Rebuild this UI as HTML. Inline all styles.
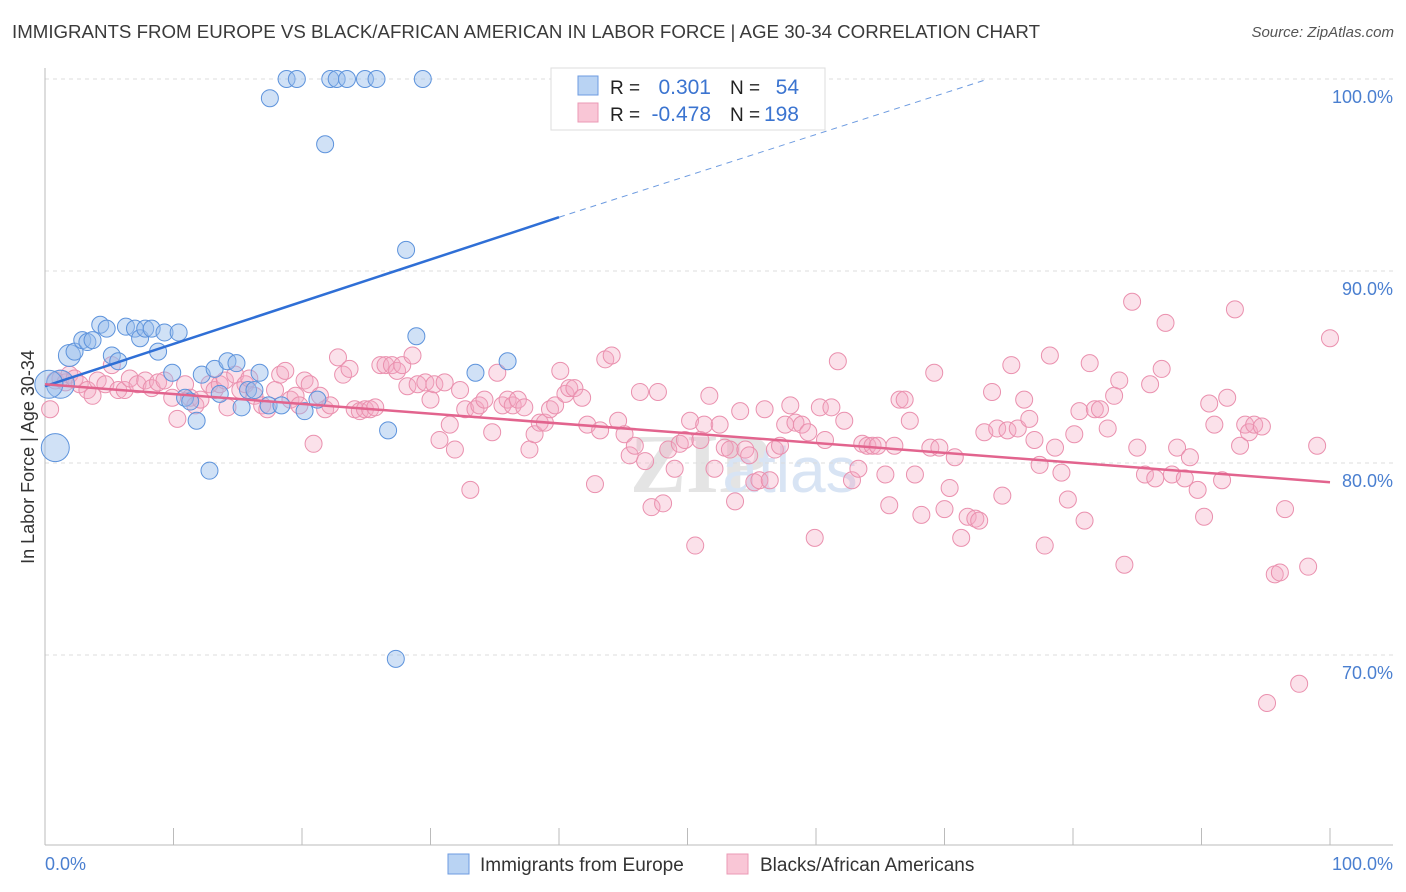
<!DOCTYPE html>
<html><head><meta charset="utf-8">
<style>
body{margin:0;background:#fff;font-family:"Liberation Sans",sans-serif;}
#wrap{position:relative;width:1406px;height:892px;overflow:hidden;}
.title{position:absolute;left:12px;top:21px;font-size:18.7px;color:#3a3a3a;white-space:nowrap;}
.src{position:absolute;right:12px;top:24px;font-size:15px;color:#555;font-style:italic;}
</style></head><body>
<div id="wrap">
<div class="title">IMMIGRANTS FROM EUROPE VS BLACK/AFRICAN AMERICAN IN LABOR FORCE | AGE 30-34 CORRELATION CHART</div>
<div class="src">Source: ZipAtlas.com</div>
<svg id="svg" width="1406" height="892" style="position:absolute;left:0;top:0"></svg>
</div>
<script>
const yTicks=[100,90,80,70];
const yTickLabels=["100.0%","90.0%","80.0%","70.0%"];
const blueX=[0.8,1.2,1.9,2.3,2.9,3.3,3.7,4.3,4.8,5.2,5.7,6.3,7.0,7.4,7.8,8.3,8.8,9.3,10.4,9.9,10.9,11.3,11.8,12.2,12.8,13.2,13.6,14.2,14.9,15.3,15.8,16.3,16.7,17.4,17.5,18.4,18.8,19.6,20.2,21.2,21.8,22.2,22.7,23.5,24.9,25.8,26.7,27.3,28.1,28.9,29.4,33.5,36.0,0.3];
const blueY=[80.8,84.1,85.6,85.8,86.4,86.3,86.4,87.2,87.0,85.6,85.3,87.1,87.0,86.5,87.0,87.0,85.8,86.8,86.8,84.7,83.4,83.2,82.2,84.6,79.6,84.9,83.6,85.3,85.2,82.9,83.8,83.8,84.7,83.0,99.0,83.0,100,100,82.7,83.3,96.6,100,100,100,100,100,81.7,69.8,91.1,86.6,100,84.7,85.3,84.1];
const pinkX=[0.4,0.8,1.2,1.6,1.9,2.3,2.7,3.3,3.7,4.1,4.7,5.2,5.7,6.2,6.6,7.2,7.8,8.3,8.8,9.3,9.9,10.3,10.9,11.3,11.7,12.1,12.8,13.2,13.6,14.0,14.2,14.8,15.2,15.6,15.9,16.3,16.9,17.3,17.9,18.3,18.7,19.1,19.5,19.8,20.2,20.6,20.9,21.4,21.8,22.2,22.8,23.2,23.7,24.1,24.5,24.9,25.3,25.7,26.1,26.5,27.0,27.4,27.8,28.2,28.6,29.0,29.6,30.0,30.3,30.7,31.1,31.5,31.9,32.3,32.7,33.1,33.5,33.8,34.2,34.8,35.2,35.6,36.0,36.4,36.8,37.3,37.7,38.1,38.5,38.9,39.3,39.7,40.1,40.5,40.8,41.2,41.8,42.2,42.8,43.2,43.6,44.1,44.6,45.1,45.5,45.9,46.3,46.7,47.2,47.7,48.1,48.5,49.0,49.4,49.8,50.2,50.6,51.0,51.3,51.7,52.1,52.5,52.9,53.3,53.7,54.1,54.5,54.8,55.2,55.6,56.0,56.4,56.8,57.2,57.6,58.0,58.4,58.9,59.4,59.9,60.3,60.7,61.2,61.7,62.2,62.8,63.3,63.6,64.0,64.4,64.8,65.4,65.7,66.1,66.5,66.9,67.3,67.7,68.2,68.9,69.2,69.6,70.0,70.4,70.8,71.3,71.8,72.4,72.7,73.1,73.7,74.1,74.5,74.9,75.2,75.7,76.2,76.6,77.0,77.4,77.8,78.2,78.6,79.1,79.6,80.1,80.5,80.9,81.3,81.7,82.1,82.7,83.2,83.6,84.0,84.6,85.0,85.6,86.0,86.4,86.9,87.2,87.7,88.1,88.7,89.1,89.7,90.2,90.6,91.0,91.6,92.0,92.6,93.0,93.4,93.7,94.1,94.7,95.1,95.7,96.1,96.5,97.6,98.3,99.0,100.0];
const pinkY=[82.8,84.3,84.4,84.2,84.6,84.4,84.1,83.8,83.5,84.3,84.1,85.1,83.8,83.8,84.4,84.1,84.3,83.9,84.2,84.3,83.4,82.3,84.1,83.4,83.0,83.3,84.1,83.8,84.1,84.3,82.9,84.6,83.8,84.1,84.4,83.5,83.0,82.8,83.8,84.6,84.8,83.3,83.5,83.0,84.3,84.1,81.0,83.5,82.8,83.0,85.5,84.6,84.9,82.8,82.7,82.8,82.8,82.9,85.1,85.1,85.1,84.8,85.1,84.0,85.6,84.1,84.2,83.3,84.1,81.2,84.2,82.0,80.7,83.8,82.8,78.6,82.8,83.0,83.3,81.6,84.7,83.0,83.3,83.0,83.3,82.9,80.7,81.5,82.1,82.1,82.8,83.0,84.8,83.6,83.9,83.9,83.4,82.0,78.9,81.7,85.4,85.6,82.2,81.5,80.4,80.9,83.7,80.1,77.7,83.7,77.9,80.7,79.7,81.0,81.2,82.2,75.7,81.2,82.0,83.5,79.7,82.0,80.8,80.7,78.0,82.7,80.7,80.4,79.0,79.1,82.8,79.1,80.7,80.9,82.0,83.0,82.1,82.0,81.6,76.1,82.9,81.2,82.9,85.3,82.2,79.1,79.7,81.0,80.9,80.9,80.9,79.4,77.8,80.9,83.3,83.3,82.2,79.4,77.3,80.8,84.7,80.8,77.6,78.7,80.3,76.1,77.2,77.1,77.0,81.6,83.7,81.8,78.3,81.7,85.1,81.8,83.3,82.3,81.2,79.9,75.7,85.6,80.8,79.5,78.1,81.5,82.7,77.0,85.2,82.8,82.8,81.8,83.5,84.3,74.7,88.4,80.8,79.4,84.1,79.2,84.9,87.3,79.4,80.8,79.2,80.3,78.6,77.2,83.1,82.0,79.1,83.4,88.0,80.9,82.0,81.6,82.0,81.9,67.5,74.2,74.3,77.6,68.5,74.6,80.9,86.5];
const blueTrend=[[0,84.0],[40,92.8],[73.4,100]];
const pinkTrend=[[0,84.1],[100,79.0]];

const NS="http://www.w3.org/2000/svg";
const svg=document.getElementById('svg');
const X0=45,X1=1330,YTOP=79,PXPER=19.2;
const sx=v=>X0+(X1-X0)*v/100;
const sy=v=>YTOP+(100-v)*PXPER;
function el(tag,attrs,parent){const e=document.createElementNS(NS,tag);for(const k in attrs)e.setAttribute(k,attrs[k]);(parent||svg).appendChild(e);return e;}

let wm=el('text',{x:700,y:492,'text-anchor':'middle','font-size':'84','font-family':'Liberation Serif, serif','font-weight':'bold',fill:'#e4e4e4'});
wm.textContent='ZIP';


let wm2=el('text',{x:790,y:492,'text-anchor':'middle','font-size':'64','font-family':'Liberation Sans, sans-serif',fill:'#d8e4f4'});
wm2.textContent='atlas';



yTicks.forEach((t,i)=>{
  const g=el('line',{x1:X0,x2:1393,y1:sy(t),y2:sy(t),stroke:'#dcdcdc','stroke-dasharray':'4,4'});
  
  
  const lb=el('text',{x:1393,y:sy(t)+24,'text-anchor':'end','font-size':'18',fill:'#4a7fd0'});
  lb.textContent=yTickLabels[i];
  
  
});
let ax=el('line',{x1:X0,x2:X0,y1:68,y2:845,stroke:'#bbb'});


let bx=el('line',{x1:X0,x2:1393,y1:845,y2:845,stroke:'#bbb'});


for(let i=0;i<=10;i++){
  const tk=el('line',{x1:sx(i*10),x2:sx(i*10),y1:828,y2:845,stroke:'#bbb'});
  
  
}
let xl0=el('text',{x:45,y:870,'font-size':'18',fill:'#4a7fd0'});xl0.textContent='0.0%';


let xl1=el('text',{x:1393,y:870,'text-anchor':'end','font-size':'18',fill:'#4a7fd0'});xl1.textContent='100.0%';


let yt=el('text',{x:34,y:457,'text-anchor':'middle','font-size':'18',fill:'#333',transform:'rotate(-90 34 457)'});
yt.textContent='In Labor Force | Age 30-34';



pinkX.forEach((x,i)=>{
  const c=el('circle',{cx:sx(x),cy:sy(pinkY[i]),r:8.5,fill:'rgba(244,170,195,0.35)',stroke:'#ea90ae','stroke-width':1});
  
  
});
blueX.forEach((x,i)=>{
  const big=(i===0||i===1||i===53)?14:(i===2?11:8.5);
  const c=el('circle',{cx:sx(x),cy:sy(blueY[i]),r:big,fill:'rgba(150,188,235,0.45)',stroke:'#5d93dc','stroke-width':1});
  
  
});
let bt=el('line',{x1:sx(blueTrend[0][0]),y1:sy(blueTrend[0][1]),x2:sx(blueTrend[1][0]),y2:sy(blueTrend[1][1]),stroke:'#2f6fd6','stroke-width':2.5});


let bd=el('line',{x1:sx(blueTrend[1][0]),y1:sy(blueTrend[1][1]),x2:sx(blueTrend[2][0]),y2:sy(blueTrend[2][1]),stroke:'#6d9be0','stroke-width':1,'stroke-dasharray':'6,5'});


let pt=el('line',{x1:sx(pinkTrend[0][0]),y1:sy(pinkTrend[0][1]),x2:sx(pinkTrend[1][0]),y2:sy(pinkTrend[1][1]),stroke:'#e2648e','stroke-width':2.5});



let lg=el('g',{});


el('rect',{x:551,y:68,width:274,height:62,fill:'#fff',stroke:'#ddd'},lg);
el('rect',{x:578,y:76,width:20,height:19,fill:'#b9d3f3',stroke:'#6d9be0'},lg);
el('rect',{x:578,y:103,width:20,height:19,fill:'#f9c6d6',stroke:'#eb9ab5'},lg);
[[94,'0.301','54'],[121,'-0.478','198']].forEach(r=>{
  let t=el('text',{x:610,y:r[0],'font-size':'19',fill:'#222'},lg);t.textContent='R =';
  let v=el('text',{x:711,y:r[0],'text-anchor':'end','font-size':'21',fill:'#3b74d0'},lg);v.textContent=r[1];
  let n=el('text',{x:730,y:r[0],'font-size':'19',fill:'#222'},lg);n.textContent='N =';
  let nv=el('text',{x:799,y:r[0],'text-anchor':'end','font-size':'21',fill:'#3b74d0'},lg);nv.textContent=r[2];
});
let bl=el('g',{});


el('rect',{x:448,y:854,width:21,height:20,fill:'#b9d3f3',stroke:'#6d9be0'},bl);
let b1=el('text',{x:480,y:871,'font-size':'19',fill:'#333'},bl);b1.textContent='Immigrants from Europe';
el('rect',{x:727,y:854,width:21,height:20,fill:'#f9c6d6',stroke:'#eb9ab5'},bl);
let b2=el('text',{x:760,y:871,'font-size':'19',fill:'#333'},bl);b2.textContent='Blacks/African Americans';
</script>
</body></html>
